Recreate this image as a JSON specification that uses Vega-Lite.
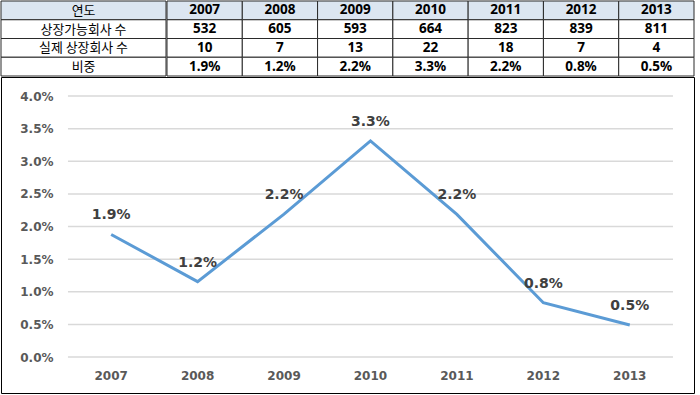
{
  "$schema": "https://vega.github.io/schema/vega-lite/v6.json",
  "padding": 0,
  "background": "white",
  "datasets": {
    "rowlabels": [
      {"c": "k", "r": 0, "label": "연도"},
      {"c": "k", "r": 1, "label": "상장가능회사 수"},
      {"c": "k", "r": 2, "label": "실제 상장회사 수"},
      {"c": "k", "r": 3, "label": "비중"}
    ],
    "cells": [
      {"year": "2007", "r": 0, "text": "2007"}, {"year": "2007", "r": 1, "text": "532"}, {"year": "2007", "r": 2, "text": "10"}, {"year": "2007", "r": 3, "text": "1.9%"},
      {"year": "2008", "r": 0, "text": "2008"}, {"year": "2008", "r": 1, "text": "605"}, {"year": "2008", "r": 2, "text": "7"}, {"year": "2008", "r": 3, "text": "1.2%"},
      {"year": "2009", "r": 0, "text": "2009"}, {"year": "2009", "r": 1, "text": "593"}, {"year": "2009", "r": 2, "text": "13"}, {"year": "2009", "r": 3, "text": "2.2%"},
      {"year": "2010", "r": 0, "text": "2010"}, {"year": "2010", "r": 1, "text": "664"}, {"year": "2010", "r": 2, "text": "22"}, {"year": "2010", "r": 3, "text": "3.3%"},
      {"year": "2011", "r": 0, "text": "2011"}, {"year": "2011", "r": 1, "text": "823"}, {"year": "2011", "r": 2, "text": "18"}, {"year": "2011", "r": 3, "text": "2.2%"},
      {"year": "2012", "r": 0, "text": "2012"}, {"year": "2012", "r": 1, "text": "839"}, {"year": "2012", "r": 2, "text": "7"}, {"year": "2012", "r": 3, "text": "0.8%"},
      {"year": "2013", "r": 0, "text": "2013"}, {"year": "2013", "r": 1, "text": "811"}, {"year": "2013", "r": 2, "text": "4"}, {"year": "2013", "r": 3, "text": "0.5%"}
    ],
    "ratio": [
      {"year": "2007", "ratio": 0.0188},
      {"year": "2008", "ratio": 0.01157},
      {"year": "2009", "ratio": 0.02192},
      {"year": "2010", "ratio": 0.03313},
      {"year": "2011", "ratio": 0.02187},
      {"year": "2012", "ratio": 0.00834},
      {"year": "2013", "ratio": 0.00493}
    ],
    "grid": [
      {"v": 0}, {"v": 0.005}, {"v": 0.01}, {"v": 0.015}, {"v": 0.02},
      {"v": 0.025}, {"v": 0.03}, {"v": 0.035}, {"v": 0.04}
    ]
  },
  "vconcat": [
    {
      "hconcat": [
        {
          "width": 165,
          "height": 75,
          "data": {"name": "rowlabels"},
          "encoding": {
            "x": {"field": "c", "type": "nominal", "axis": null, "scale": {"paddingInner": 0, "paddingOuter": 0}},
            "y": {"field": "r", "type": "ordinal", "axis": null, "scale": {"paddingInner": 0, "paddingOuter": 0}}
          },
          "layer": [
            {
              "mark": {"type": "rect", "stroke": "#2a2a2a", "strokeWidth": 1},
              "encoding": {
                "fill": {"condition": {"test": "datum.r == 0", "value": "#dce6f1"}, "value": "white"}
              }
            },
            {
              "mark": {"type": "text", "font": "Noto Sans CJK KR", "fontSize": 12.9, "color": "#000000", "baseline": "middle", "align": "center", "dy": 0.5},
              "encoding": {"text": {"field": "label"}}
            }
          ]
        },
        {
          "width": 527,
          "height": 75,
          "data": {"name": "cells"},
          "encoding": {
            "x": {"field": "year", "type": "nominal", "axis": null, "scale": {"paddingInner": 0, "paddingOuter": 0}},
            "y": {"field": "r", "type": "ordinal", "axis": null, "scale": {"paddingInner": 0, "paddingOuter": 0}}
          },
          "layer": [
            {
              "mark": {"type": "rect", "stroke": "#2a2a2a", "strokeWidth": 1},
              "encoding": {
                "fill": {"condition": {"test": "datum.r == 0", "value": "#dce6f1"}, "value": "white"}
              }
            },
            {
              "mark": {"type": "text", "font": "Noto Sans", "fontWeight": "bold", "fontSize": 13.5, "color": "#000000", "baseline": "middle", "align": "center"},
              "encoding": {"text": {"field": "text"}}
            }
          ]
        }
      ],
      "spacing": -2
    },
    {
      "width": 693,
      "height": 316,
      "view": {"stroke": "#000000", "strokeWidth": 1},
      "data": {"name": "ratio"},
      "encoding": {
        "x": {
          "field": "year", "type": "nominal", "title": null,
          "scale": {"type": "band", "paddingInner": 0, "paddingOuter": 0.509, "align": 0.761},
          "axis": {"labelAngle": 0, "offset": -24, "labelPadding": 1, "domain": false, "ticks": false, "grid": false}
        },
        "y": {
          "field": "ratio", "type": "quantitative", "title": null,
          "scale": {"domain": [-0.0055, 0.04293], "nice": false, "zero": false},
          "axis": {"values": [0, 0.005, 0.01, 0.015, 0.02, 0.025, 0.03, 0.035, 0.04], "format": ".1%", "offset": -55, "labelPadding": 3, "domain": false, "ticks": false, "grid": false}
        }
      },
      "layer": [
        {
          "data": {"name": "grid"},
          "mark": {"type": "rule", "color": "#d9d9d9", "strokeWidth": 1.5},
          "encoding": {
            "y": {"field": "v", "type": "quantitative", "title": null},
            "x": {"datum": "2007", "type": "nominal", "bandPosition": 0},
            "x2": {"datum": "2013", "bandPosition": 1}
          }
        },
        {
          "mark": {"type": "line", "color": "#5b9bd5", "strokeWidth": 3}
        },
        {
          "mark": {"type": "text", "font": "DejaVu Sans", "fontWeight": "bold", "fontSize": 14, "color": "#404040", "baseline": "middle", "align": "center", "dy": -19},
          "encoding": {"text": {"field": "ratio", "type": "quantitative", "format": ".1%"}}
        }
      ]
    }
  ],
  "spacing": -2,
  "config": {
    "view": {"stroke": null},
    "axis": {"labelFont": "DejaVu Sans", "labelFontWeight": "bold", "labelFontSize": 12, "labelColor": "#595959"}
  }
}
